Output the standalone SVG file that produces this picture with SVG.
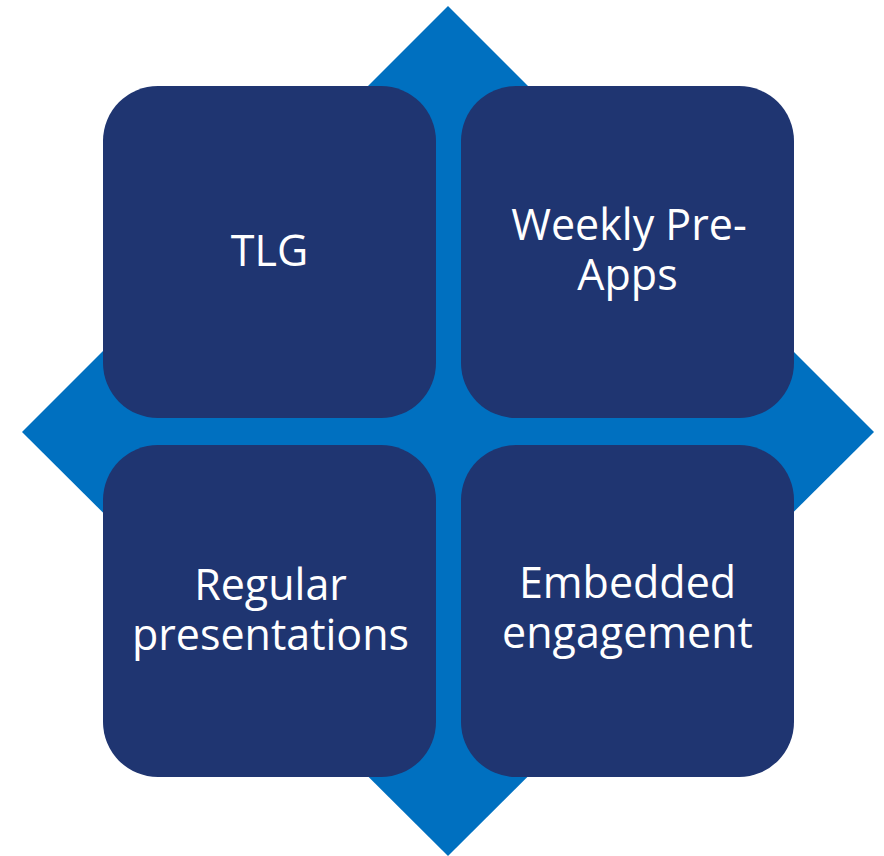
<svg xmlns="http://www.w3.org/2000/svg" width="884" height="856" viewBox="0 0 884 856">
<style>
.box{fill:#1F3571}
.lbl{fill:#FFFFFF;font-family:"Open Sans","Noto Sans",sans-serif;font-size:43px;text-anchor:middle}
</style>
<rect width="884" height="856" fill="#FFFFFF"/>
<g id="diamond"><polygon points="448,6 874,432 448,856 22,432" fill="#0070C0"/></g>
<g id="node-tlg"><rect class="box" x="103" y="86" width="333" height="332" rx="55" ry="55"/><text class="lbl" x="269.5" y="266">TLG</text></g>
<g id="node-weekly"><rect class="box" x="461" y="86" width="333" height="332" rx="55" ry="55"/><text class="lbl" x="629" y="240">Weekly Pre-</text><text class="lbl" x="627.5" y="290">Apps</text></g>
<g id="node-regular"><rect class="box" x="103" y="445" width="333" height="332" rx="55" ry="55"/><text class="lbl" x="270.5" y="600">Regular</text><text class="lbl" x="270.5" y="650">presentations</text></g>
<g id="node-embedded"><rect class="box" x="461" y="445" width="333" height="332" rx="55" ry="55"/><text class="lbl" x="627.5" y="598">Embedded</text><text class="lbl" x="627.5" y="648">engagement</text></g>
<g id="connectors"></g>
</svg>
